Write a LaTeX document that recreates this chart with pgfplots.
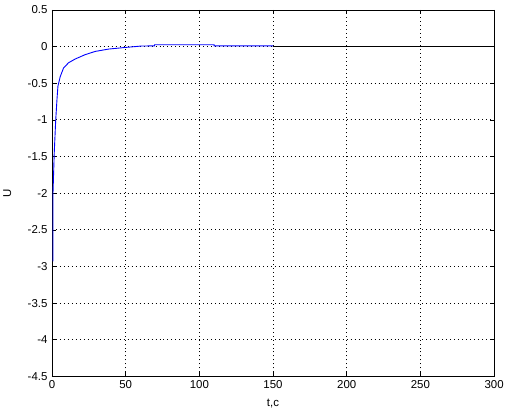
\documentclass[border=0pt]{standalone}
\usepackage{fontspec}
\setmainfont{Liberation Sans}
\usepackage{pgfplots}
\pgfplotsset{compat=1.18}
\begin{document}
\begin{tikzpicture}
\path (-50pt,-35pt) rectangle (462pt,378pt);
\begin{axis}[
  scale only axis, width=444pt, height=368pt,
  xmin=0, xmax=300, ymin=-4.5, ymax=0.5,
  xtick={0,50,...,300}, ytick={-4.5,-4,...,0.5},
  tick align=inside, tick pos=both, major tick length=4pt,
  grid=major, major grid style={black, dash pattern=on 1pt off 3pt, line width=0.8pt},
  axis line style={black, line width=0.6pt},
  tick style={black, line width=0.6pt},
  tick label style={font=\fontsize{11.5}{13}\selectfont},
  label style={font=\fontsize{11.5}{13}\selectfont},
  /pgf/number format/assume math mode=true,
  yticklabel style={/pgf/number format/fixed, xshift=-1pt},
  xticklabel style={yshift=-1pt},
  xlabel={t,c}, ylabel={U},
  xlabel style={at={(axis description cs:0.5,-0.073)}, anchor=center},
  ylabel style={at={(axis description cs:-0.101,0.5)}, anchor=center},
]
\addplot[blue, line width=0.9pt] coordinates {
(0.7,-2.93) (0.7,-2.0) (1.55,-1.45) (2.5,-1.02) (3.4,-0.72) (4.05,-0.54)
(5.6,-0.41) (7.9,-0.29) (11.3,-0.22) (15.7,-0.17) (22.5,-0.11) (29.3,-0.066)
(38.3,-0.034) (49.5,-0.012) (60.8,0.008) (69.6,0.01) (69.6,0.025) (110,0.025)
(110,0.01) (150,0.01)
};
\addplot[black, line width=0.6pt] coordinates {(150,0) (300,0)};
\end{axis}
\end{tikzpicture}
\end{document}
